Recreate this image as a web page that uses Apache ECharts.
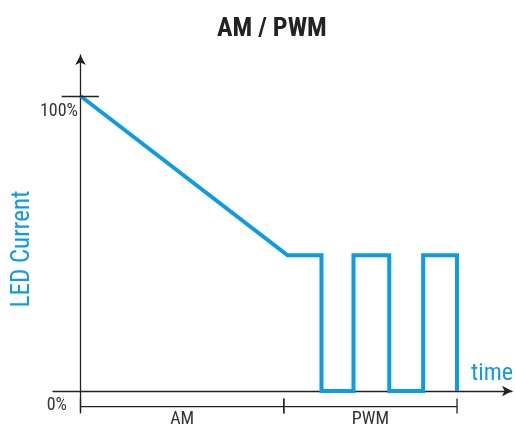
<!DOCTYPE html>
<html>
<head>
<meta charset="utf-8">
<script src="https://cdn.jsdelivr.net/npm/echarts@6/dist/echarts.min.js"></script>
<style>html,body{margin:0;padding:0;background:#fff}#c{width:515px;height:426px}</style>
</head>
<body>
<div id="c"></div>
<script>
// ---- data ----
const titleText = 'AM / PWM';
const yName = 'LED Current';
const xName = 'time';
// LED current waveform: [time, current %]
const timeValues    = [0,   55, 64, 64, 72.5, 72.5, 82, 82, 91, 91, 100, 100];
const currentValues = [100, 46, 46, 0,  0,    46,   46, 0,  0,  46, 46,  0];
// y tick labels
const yTickValues = [0, 100];
const yTickLabels = ['0%', '100%'];
// phases under the time axis
const phaseNames  = ['AM', 'PWM'];
const phaseStarts = [0, 54];
const phaseEnds   = [54, 100];

const BLUE = '#0E9BE5';
const INK = '#222';
const FONT = "'Liberation Sans Narrow', 'Roboto Condensed', 'Arial Narrow', sans-serif";

const lineData = timeValues.map((t, i) => [t, currentValues[i]]);
const phaseData = phaseNames.map((n, i) => [phaseStarts[i], phaseEnds[i], n]);

const chart = echarts.init(document.getElementById('c'), null, {renderer: 'canvas'});
chart.setOption({
  animation: false,
  backgroundColor: '#fff',
  title: {
    text: titleText, left: 212, top: 11,
    textStyle: {fontFamily: FONT, fontSize: 26, fontWeight: 'bold', color: INK}
  },
  graphic: [{
    type: 'text', x: 23, y: 249, rotation: Math.PI / 2, silent: true,
    style: {text: yName, align: 'center', verticalAlign: 'middle', fontFamily: FONT, fontSize: 25, fill: BLUE}
  }],
  grid: {left: 53, top: 55, width: 459, bottom: 14, containLabel: false, outerBoundsMode: 'none'},
  xAxis: {
    type: 'value', min: -7.3, max: 114.6,
    axisLine: {onZero: true, lineStyle: {color: INK, width: 1.3}, symbol: ['none', 'arrow'], symbolSize: [8, 10], symbolOffset: [0, 0]},
    axisTick: {show: false}, axisLabel: {show: false}, splitLine: {show: false},
    name: xName, nameLocation: 'end', nameGap: 1, nameMoveOverlap: false,
    nameTextStyle: {fontFamily: FONT, fontSize: 24, color: BLUE, align: 'right', verticalAlign: 'bottom', padding: [0, 0, 5, 0]}
  },
  yAxis: {
    type: 'value', min: -7.1, max: 113.9,
    axisLine: {onZero: true, lineStyle: {color: INK, width: 1.3}, symbol: ['none', 'arrow'], symbolSize: [8, 10]},
    axisTick: {show: false}, splitLine: {show: false},
    axisLabel: {
      customValues: yTickValues, margin: -25,
      formatter: v => v === 100 ? '{a|' + yTickLabels[1] + '}' : '{b|' + yTickLabels[0] + '}',
      rich: {
        a: {fontFamily: FONT, fontSize: 18, color: '#333', padding: [30, 0, 0, 0]},
        b: {fontFamily: FONT, fontSize: 18, color: '#333', padding: [28, 11, 0, 0]}
      }
    }
  },
  series: [
    {
      type: 'line', data: lineData, symbol: 'none', silent: true,
      lineStyle: {color: BLUE, width: 4, join: 'miter'},
      markLine: {
        silent: true, symbol: ['none', 'none'], label: {show: false},
        lineStyle: {color: INK, width: 1.3, type: 'solid'},
        data: [[{coord: [-5, 100]}, {coord: [4.9, 100]}]]
      }
    },
    {
      type: 'custom', silent: true, clip: false,
      data: phaseData,
      renderItem: function (params, api) {
        const a = api.coord([api.value(0), 0]);
        const b = api.coord([api.value(1), 0]);
        const y = a[1] + 15.5;
        const st = {stroke: INK, lineWidth: 1.3};
        return {
          type: 'group',
          children: [
            {type: 'line', shape: {x1: a[0], y1: y, x2: b[0], y2: y}, style: st},
            {type: 'line', shape: {x1: a[0], y1: y - 8, x2: a[0], y2: y + 7}, style: st},
            {type: 'line', shape: {x1: b[0], y1: y - 8, x2: b[0], y2: y + 7}, style: st},
            {type: 'text', style: {text: api.value(2), x: (a[0] + b[0]) / 2, y: a[1] + 28, align: 'center', verticalAlign: 'middle', fontFamily: FONT, fontSize: 18, fill: '#333'}}
          ]
        };
      }
    }
  ]
});
</script>
</body>
</html>
